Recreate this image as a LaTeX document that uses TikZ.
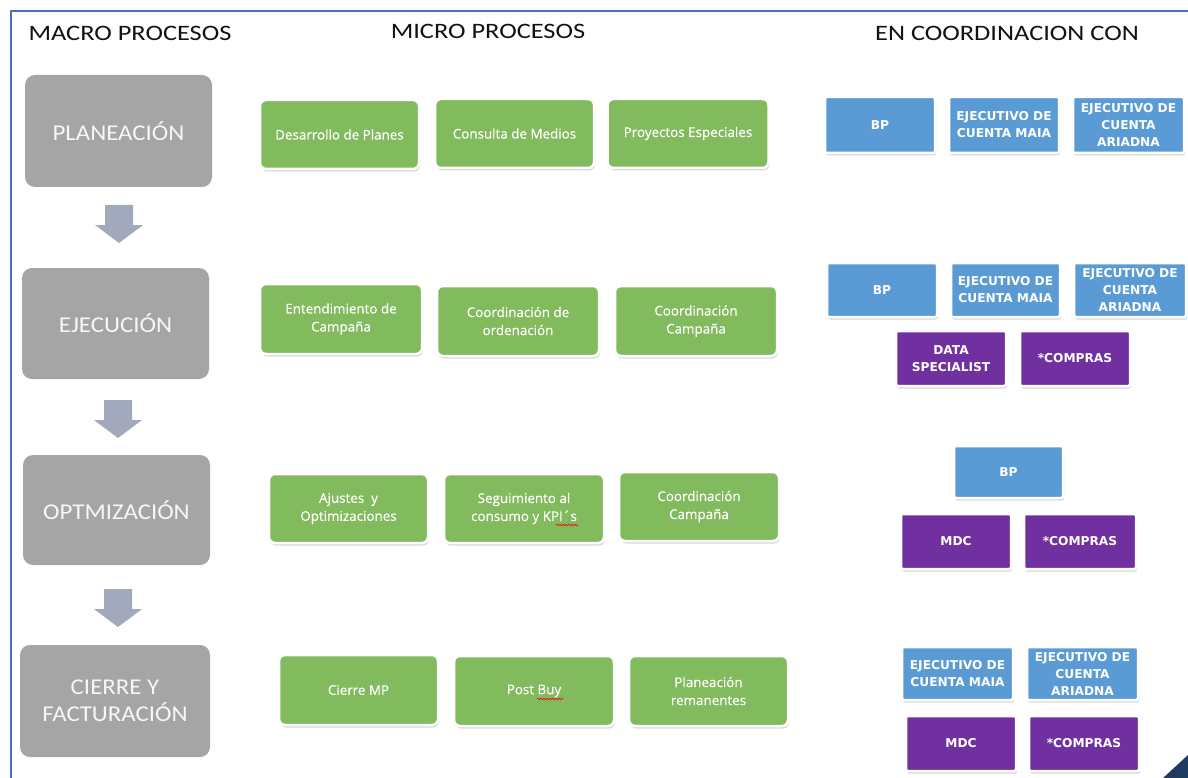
\documentclass[tikz,border=0pt]{standalone}
\usepackage{fontspec}
\setmainfont{Carlito}
\newfontfamily\titlefont{Carlito}[FakeStretch=1.2]
\newfontfamily\macrofont{Carlito}[FakeStretch=1.1]
\newfontfamily\greenfont{Open Sans}[FakeBold=0.35]
\newfontfamily\capsfont{DejaVu Sans}
\usetikzlibrary{shadows,decorations.pathmorphing}

\definecolor{macrogray}{HTML}{A5A5A5}
\definecolor{microgreen}{HTML}{82BA5E}
\definecolor{coordblue}{HTML}{5B9BD5}
\definecolor{coordpurple}{HTML}{7030A0}
\definecolor{flowarrow}{HTML}{A2A9BC}
\definecolor{frameblue}{HTML}{4472C4}
\definecolor{cornernavy}{HTML}{1F3A5F}
\definecolor{headtext}{HTML}{111111}

\tikzset{
  heading/.style={text=headtext, font=\titlefont\fontsize{22}{25}\selectfont, inner sep=0},
  macro/.style={fill=macrogray, rounded corners=10pt, text=white!94!gray,
    font=\macrofont\fontsize{22.6}{27}\selectfont, align=center, inner sep=0},
  card/.style={draw=white, line width=2.5pt, align=center, inner sep=0,
    drop shadow={shadow xshift=1pt, shadow yshift=-2.5pt, opacity=0.3}},
  micro/.style={card, fill=microgreen, rounded corners=6pt, text=white,
    font=\greenfont\fontsize{13.4}{18}\selectfont},
  rolebox/.style={card, fill=coordblue, rounded corners=2pt, text=white,
    font=\capsfont\bfseries\fontsize{12.2}{17}\selectfont},
  teambox/.style={rolebox, fill=coordpurple},
  flow/.style={fill=flowarrow},
  spellmark/.style={red, line width=0.6pt, decorate,
    decoration={snake, amplitude=0.8pt, segment length=3pt}}
}

% downward block arrow centred at #1, tip at #2 (y grows downward)
\newcommand{\flowarrowat}[2]{%
  \fill[flow] (#1-14,#2-38) -- (#1+14,#2-38) -- (#1+14,#2-18) -- (#1+24,#2-18)
    -- (#1,#2) -- (#1-24,#2-18) -- (#1-14,#2-18) -- cycle;}

\begin{document}
\begin{tikzpicture}[x=1pt,y=-1pt]
\useasboundingbox (0,0) rectangle (1188,778);
\fill[white] (0,0) rectangle (1188,778);
\begin{scope}
\clip (0,0) rectangle (1188,778);

% frame and corner ornament
\draw[frameblue, line width=1.3pt] (1188,11) -- (11,11) -- (11,778);
\fill[cornernavy] (1163,778) -- (1188,778) -- (1188,755) -- cycle;

% column headings
\node[heading] (hmacro) at (130,33) {MACRO PROCESOS};
\node[heading] (hmicro) at (488,31) {MICRO PROCESOS};
\node[heading] (hcoord) at (1007,33) {EN COORDINACION CON};

% macro processes
\node[macro, minimum width=187pt, minimum height=112pt] (m1) at (118.5,131) {PLANEACIÓN};
\node[macro, minimum width=187pt, minimum height=111pt] (m2) at (115.5,323.5) {EJECUCIÓN};
\node[macro, minimum width=187pt, minimum height=110pt] (m3) at (116.5,510) {OPTMIZACIÓN};
\node[macro, minimum width=190pt, minimum height=112pt] (m4) at (115,701) {CIERRE Y\\FACTURACIÓN};

\flowarrowat{119}{243}
\flowarrowat{118}{438}
\flowarrowat{118}{627}

% micro processes
\node[micro, minimum width=159pt, minimum height=69pt] (p11) at (339.5,134.5) {Desarrollo de Planes};
\node[micro, minimum width=159pt, minimum height=69pt] (p12) at (514.5,133.5) {Consulta de Medios};
\node[micro, minimum width=161pt, minimum height=69pt] (p13) at (688,133.5) {Proyectos Especiales};

\node[micro, minimum width=162pt, minimum height=70pt] (p21) at (341,319) {Entendimiento de\\Campaña};
\node[micro, minimum width=162pt, minimum height=70pt] (p22) at (518,321) {Coordinación de\\ordenación};
\node[micro, minimum width=162pt, minimum height=70pt] (p23) at (696,321) {Coordinación\\Campaña};

\node[micro, minimum width=159pt, minimum height=69pt] (p31) at (348.5,508.5) {Ajustes\ \ y\\Optimizaciones};
\node[micro, minimum width=160pt, minimum height=69pt] (p32) at (524,508.5) {Seguimiento al\\consumo y KPI´s};
\node[micro, minimum width=160pt, minimum height=69pt] (p33) at (699,506.5) {Coordinación\\Campaña};

\node[micro, minimum width=159pt, minimum height=70pt] (p41) at (358.5,690) {Cierre MP};
\node[micro, minimum width=160pt, minimum height=70pt] (p42) at (534,691) {Post Buy};
\node[micro, minimum width=159pt, minimum height=70pt] (p43) at (708.5,691) {Planeación\\remanentes};

\draw[spellmark] (556,525) -- (578,525);
\draw[spellmark] (537,699) -- (563,699);

% coordination partners
\node[rolebox, minimum width=110pt, minimum height=56pt] (c11) at (880,125) {BP};
\node[rolebox, minimum width=110pt, minimum height=56pt] (c12) at (1004,125) {EJECUTIVO DE\\CUENTA MAIA};
\node[rolebox, minimum width=111pt, minimum height=56pt] (c13) at (1128.5,125) {EJECUTIVO DE\\CUENTA\\ARIADNA};

\node[rolebox, minimum width=110pt, minimum height=54pt] (c21) at (882,290) {BP};
\node[rolebox, minimum width=109pt, minimum height=54pt] (c22) at (1005.5,290) {EJECUTIVO DE\\CUENTA MAIA};
\node[rolebox, minimum width=112pt, minimum height=54pt] (c23) at (1130,290) {EJECUTIVO DE\\CUENTA\\ARIADNA};
\node[teambox, minimum width=110pt, minimum height=55pt] (c24) at (951,358.5) {DATA\\SPECIALIST};
\node[teambox, minimum width=110pt, minimum height=55pt] (c25) at (1075,358.5) {*COMPRAS};

\node[rolebox, minimum width=109pt, minimum height=52pt] (c31) at (1008.5,472) {BP};
\node[teambox, minimum width=110pt, minimum height=55pt] (c32) at (956,541.5) {MDC};
\node[teambox, minimum width=112pt, minimum height=55pt] (c33) at (1080,541.5) {*COMPRAS};

\node[rolebox, minimum width=111pt, minimum height=53pt] (c41) at (957.5,673.5) {EJECUTIVO DE\\CUENTA MAIA};
\node[rolebox, minimum width=111pt, minimum height=53pt] (c42) at (1082.5,673.5) {EJECUTIVO DE\\CUENTA\\ARIADNA};
\node[teambox, minimum width=110pt, minimum height=55pt] (c43) at (961,743.5) {MDC};
\node[teambox, minimum width=110pt, minimum height=55pt] (c44) at (1084,743.5) {*COMPRAS};
\end{scope}
\end{tikzpicture}
\end{document}
